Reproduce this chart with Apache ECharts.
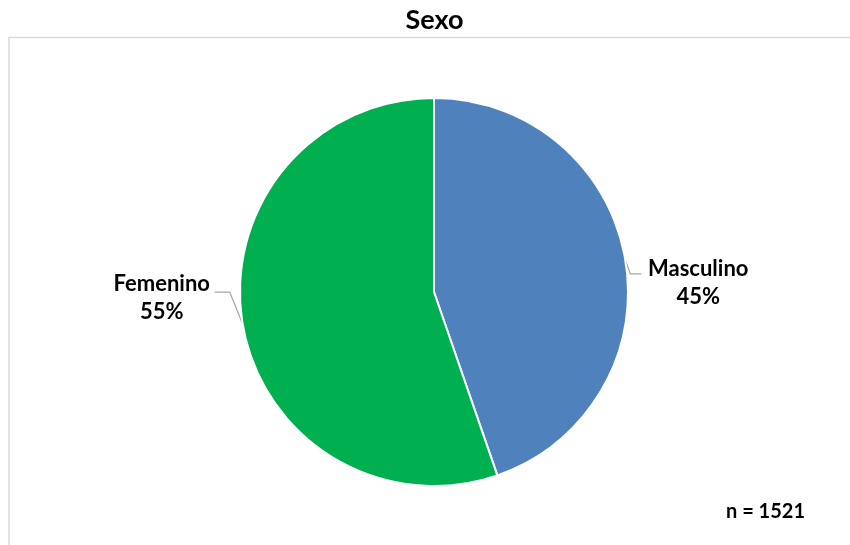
<!DOCTYPE html>
<html>
<head>
<meta charset="utf-8">
<script src="https://cdn.jsdelivr.net/npm/echarts@6/dist/echarts.min.js"></script>
<style>html,body{margin:0;padding:0;background:#fff}#c{width:850px;height:545px}</style>
</head>
<body>
<div id="c"></div>
<script>
var categories = ['Masculino', 'Femenino'];
var counts = [680, 841];
var colors = ['#4F81BD', '#00B050'];
var titleText = 'Sexo';
var noteText = 'n = 1521';

var FONT = 'Lato, "Open Sans", sans-serif';
var chart = echarts.init(document.getElementById('c'), null, {renderer: 'canvas'});
chart.setOption({
  backgroundColor: '#ffffff',
  animation: false,
  graphic: [
    {type: 'rect', shape: {x: 9, y: 37.5, width: 900, height: 600}, style: {fill: 'none', stroke: '#d9d9d9', lineWidth: 1.5}, silent: true},
    {type: 'text', x: 434.5, y: 20, style: {text: titleText, font: 'bold 27px ' + FONT, fill: '#000', align: 'center', verticalAlign: 'middle'}},
    {type: 'text', right: 45, top: 502, style: {text: noteText, font: 'bold 20px ' + FONT, fill: '#000'}}
  ],
  series: [{
    type: 'pie',
    center: [434, 292],
    radius: 194,
    startAngle: 90,
    clockwise: true,
    itemStyle: {borderColor: '#fff', borderWidth: 2},
    label: {
      show: true, position: 'outside',
      formatter: function (p) { return '{a|' + p.name + '}\n{a|' + Math.round(p.percent) + '%}'; },
      rich: {a: {fontFamily: FONT, fontWeight: 'bold', fontSize: 22, color: '#000', width: 104, align: 'center', lineHeight: 28}}
    },
    labelLine: {show: true, length: 6, length2: 10, lineStyle: {color: '#a6a6a6', width: 1.3}},
    labelLayout: function (p) {
      var r = p.labelRect, p0 = p.labelLinePoints[0];
      var right = p.dataIndex === 0;
      var dy = right ? 24 : -27;
      var dx = right ? 0 : -8;
      var cy = r.y + r.height / 2 + dy;
      var end, mid;
      if (right) {
        mid = [p0[0] + 5, cy - 9];
        end = [mid[0] + 11, mid[1]];
      } else {
        mid = [p0[0] - 13, cy - 6];
        end = [mid[0] - 15, mid[1]];
      }
      return {dx: dx, dy: dy, labelLinePoints: [p0, mid, end]};
    },
    data: categories.map(function (c, i) { return {name: c, value: counts[i], itemStyle: {color: colors[i]}}; })
  }]
});
</script>
</body>
</html>
